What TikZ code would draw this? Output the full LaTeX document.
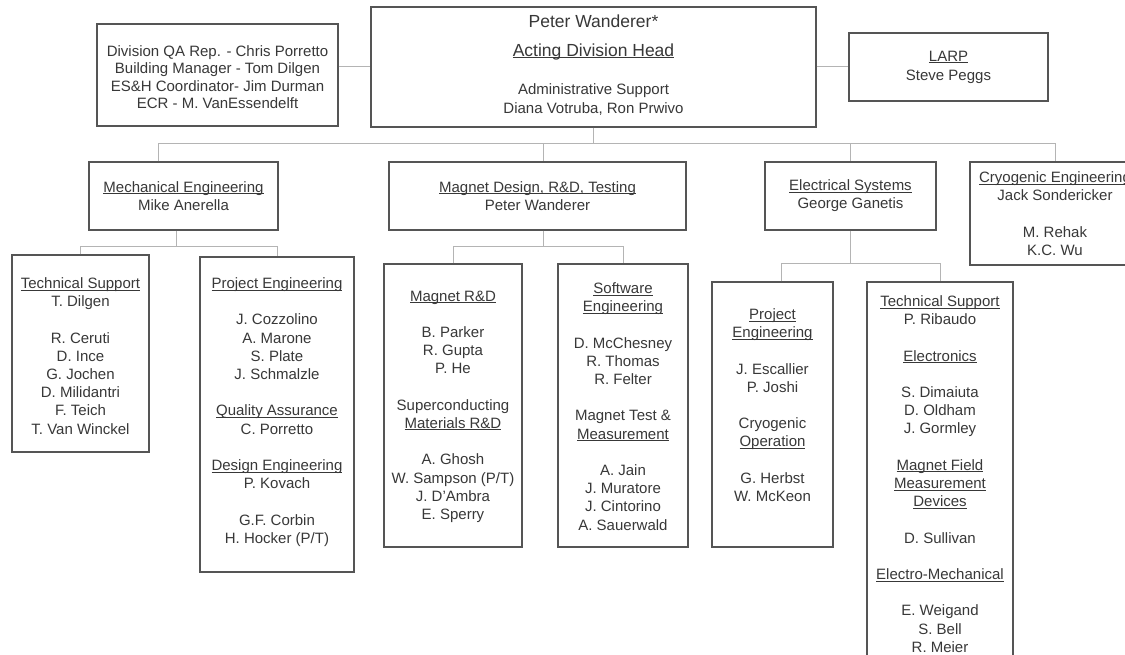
\documentclass[tikz,border=0pt]{standalone}
\usepackage{fontspec}
\setmainfont{Liberation Sans}
\usetikzlibrary{calc}
\definecolor{boxc}{HTML}{555555}
\definecolor{connc}{HTML}{B4B4B4}
\definecolor{txtc}{HTML}{383838}
\newsavebox\ulbx
\newcommand\ul[1]{\sbox\ulbx{#1}\rlap{\rule[-1.8pt]{\wd\ulbx}{0.8pt}}\usebox\ulbx}
\newcommand\bl{\\[18.2pt]}
\newcommand\fs{\fontsize{15}{18.2}\selectfont}
\begin{document}
\begin{tikzpicture}[x=1pt,y=-1pt,
  box/.style={draw=boxc, line width=1.3pt, inner sep=0pt, align=center, font=\fs, text=txtc},
  txt/.style={anchor=north, inner sep=0pt, align=center, font=\fs, text=txtc},
  conn/.style={draw=connc, line width=1pt}]
\useasboundingbox[fill=white] (0,0) rectangle (1125,655);
\clip (0,0) rectangle (1125,655);

% top row
\node[box, minimum width=241pt, minimum height=102pt] (qa) at (217.5,75) {};
\node[txt, font=\fontsize{15}{17.5}\selectfont] (qat) at (217.5,45)
  {Division QA Rep. - Chris Porretto\\Building Manager - Tom Dilgen\\ES\&H Coordinator- Jim Durman\\ECR - M. VanEssendelft};
\node[box, minimum width=445pt, minimum height=120pt] (head) at (593.5,67) {};
\node[txt, font=\fontsize{17.5}{29}\selectfont] (headt) at (593.5,14.5) {Peter Wanderer*\\\ul{Acting Division Head}};
\node[txt, font=\fontsize{15}{19}\selectfont] (heada) at (593.5,83.5) {Administrative Support\\Diana Votruba, Ron Prwivo};
\node[box, minimum width=199pt, minimum height=68pt, font=\fontsize{15}{19}\selectfont] (larp) at (948.5,67) {\ul{LARP}\\Steve Peggs};

% second row
\node[box, minimum width=189pt, minimum height=68pt] (mech) at (183.5,196) {\ul{Mechanical Engineering}\\Mike Anerella};
\node[box, minimum width=297pt, minimum height=68pt] (mag) at (537.5,196) {\ul{Magnet Design, R\&D, Testing}\\Peter Wanderer};
\node[box, minimum width=171pt, minimum height=68pt] (elec) at (850.5,196) {\ul{Electrical Systems}\\George Ganetis};
\node[box, minimum width=170pt, minimum height=103pt] (cryo) at (1055,213.5) {};
\node[txt] (cryot) at (1055,171.5) {\ul{Cryogenic Engineering}\\Jack Sondericker\bl M. Rehak\\K.C. Wu};

% third row
\node[box, minimum width=137pt, minimum height=197pt] (ts1) at (80.5,353.5) {};
\node[txt] (ts1t) at (80.5,277.5) {\ul{Technical Support}\\T. Dilgen\bl R. Ceruti\\D. Ince\\G. Jochen\\D. Milidantri\\F. Teich\\T. Van Winckel};

\node[box, minimum width=154pt, minimum height=315pt] (pe1) at (277,414.5) {};
\node[txt] (pe1t) at (277,277.5) {\ul{Project Engineering}\bl J. Cozzolino\\A. Marone\\S. Plate\\J. Schmalzle\bl \ul{Quality Assurance}\\C. Porretto\bl \ul{Design Engineering}\\P. Kovach\bl G.F. Corbin\\H. Hocker (P/T)};

\node[box, minimum width=138pt, minimum height=283pt] (mrd) at (453,405.5) {};
\node[txt] (mrdt) at (453,290.5) {\ul{Magnet R\&D}\bl B. Parker\\R. Gupta\\P. He\bl Superconducting\\\ul{Materials R\&D}\bl A. Ghosh\\W. Sampson (P/T)\\J. D'Ambra\\E. Sperry};

\node[box, minimum width=130pt, minimum height=283pt] (sw) at (623,405.5) {};
\node[txt] (swt) at (623,282.5) {\ul{Software}\\\ul{Engineering}\bl D. McChesney\\R. Thomas\\R. Felter\bl Magnet Test \&\\\ul{Measurement}\bl A. Jain\\J. Muratore\\J. Cintorino\\A. Sauerwald};

\node[box, minimum width=121pt, minimum height=265pt] (pe2) at (772.5,414.5) {};
\node[txt] (pe2t) at (772.5,308.5) {\ul{Project}\\\ul{Engineering}\bl J. Escallier\\P. Joshi\bl Cryogenic\\\ul{Operation}\bl G. Herbst\\W. McKeon};

\node[box, minimum width=146pt, minimum height=418pt] (ts2) at (940,491) {};
\node[txt] (ts2t) at (940,295.5) {\ul{Technical Support}\\P. Ribaudo\bl \ul{Electronics}\bl S. Dimaiuta\\D. Oldham\\J. Gormley\bl \ul{Magnet Field}\\\ul{Measurement}\\\ul{Devices}\bl D. Sullivan\bl \ul{Electro-Mechanical}\bl E. Weigand\\S. Bell\\R. Meier};

% connectors
\draw[conn] (qa.east |- head.west) -- (head.west);
\draw[conn] (head.east) -- (larp.west);

\coordinate (bus) at (0,144);
\coordinate (mechin) at ($(mech.north)+(-25.5,0)$);
\coordinate (magin) at ($(mag.north)+(5.5,0)$);
\draw[conn] (head.south) -- (head.south |- bus);
\draw[conn] (mechin) -- (mechin |- bus) -- (cryo.north |- bus) -- (cryo.north);
\draw[conn] (magin |- bus) -- (magin);
\draw[conn] (elec.north |- bus) -- (elec.north);

\coordinate (mbus) at (0,247);
\coordinate (mechout) at ($(mech.south)+(-7.5,0)$);
\draw[conn] (mechout) -- (mechout |- mbus);
\draw[conn] (ts1.north) -- (ts1.north |- mbus) -- (pe1.north |- mbus) -- (pe1.north);
\coordinate (magout) at ($(mag.south)+(5.5,0)$);
\draw[conn] (magout) -- (magout |- mbus);
\draw[conn] (mrd.north) -- (mrd.north |- mbus) -- (sw.north |- mbus) -- (sw.north);

\coordinate (ebus) at (0,264);
\coordinate (pe2in) at ($(pe2.north)+(8.5,0)$);
\draw[conn] (elec.south) -- (elec.south |- ebus);
\draw[conn] (pe2in) -- (pe2in |- ebus) -- (ts2.north |- ebus) -- (ts2.north);
\end{tikzpicture}
\end{document}
